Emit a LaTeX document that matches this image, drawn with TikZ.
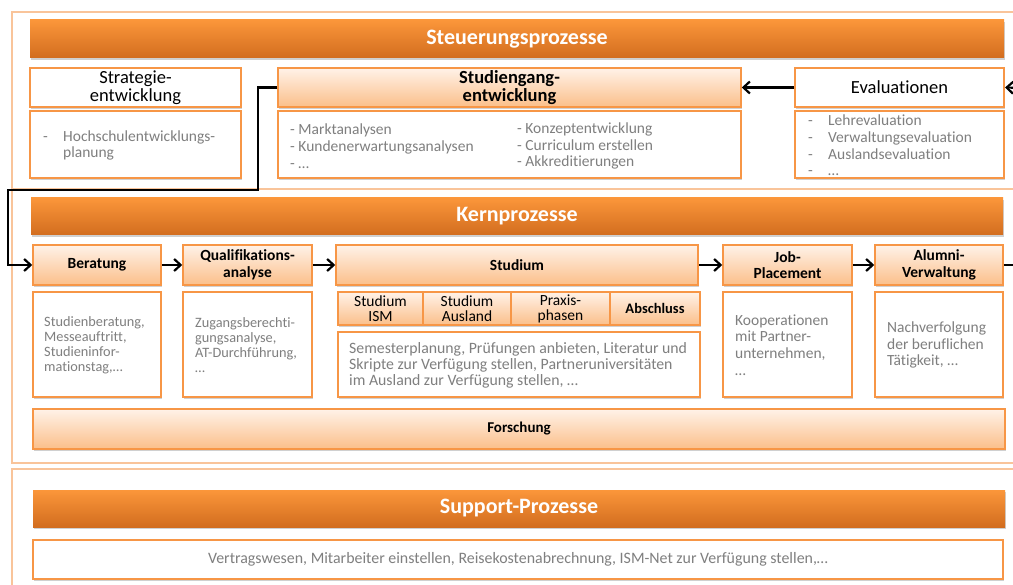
\documentclass[tikz,border=0pt]{standalone}
\usepackage{fontspec}
\setmainfont{Carlito}[Ligatures=NoCommon]
\usetikzlibrary{arrows.meta,shadows}
\definecolor{ordark}{HTML}{D26D1F}
\definecolor{orlight}{HTML}{FB963A}
\definecolor{orborder}{HTML}{F79646}
\definecolor{panelborder}{HTML}{F9C49A}
\definecolor{ttltop}{HTML}{FFF2E8}
\definecolor{ttlbot}{HTML}{FBBF8A}
\definecolor{graytext}{HTML}{7F7F7F}
\newcommand\mybox[7]{\node[#2, minimum width={(#5)-(#3)}, minimum height={(#6)-(#4)}] (#1) at ({((#3)+(#5))/2},{((#4)+(#6))/2}) {#7};}
\begin{document}
\begin{tikzpicture}[x=1pt,y=-1pt,
  shad/.style={drop shadow={shadow xshift=1pt, shadow yshift=-2pt, opacity=0.3, fill=black!60}},
  panel/.style={draw=panelborder, line width=1.5pt},
  hdr/.style={shad, top color=orlight, bottom color=ordark, text=white, inner sep=0pt,
    font=\bfseries\fontsize{22}{24}\selectfont},
  ttl/.style={shad, draw=orborder, line width=1.5pt, top color=ttltop, bottom color=ttlbot,
    inner sep=0pt, align=center, font=\bfseries\fontsize{15.5}{16.7}\selectfont},
  bigttl/.style={ttl, font=\bfseries\fontsize{18.5}{17.7}\selectfont},
  wttl/.style={shad, draw=orborder, line width=2pt, fill=white, inner sep=0pt, align=center,
    font=\fontsize{18.5}{17.7}\selectfont},
  subttl/.style={ttl, font=\fontsize{15.5}{15}\selectfont},
  cbox/.style={shad, draw=orborder, line width=1.5pt, fill=white, inner sep=0pt, text=graytext,
    align=center, font=\fontsize{15.9}{16}\selectfont},
  ctext/.style={anchor=west, inner sep=0pt, text=graytext, align=left},
  small/.style={font=\fontsize{14.3}{15}\selectfont},
  mid/.style={font=\fontsize{15.5}{16.7}\selectfont},
  flow/.style={line width=2.2pt, -{Straight Barb[length=6.5pt,width=12pt]}},
  plain/.style={line width=2.2pt}
]
\useasboundingbox (0,0) rectangle (1013,585);
\begin{scope}
\clip (0,0) rectangle (1013,585);
\fill[white] (0,0) rectangle (1013,585);
% panels
\draw[panel] (12,12) rectangle (1030,189);
\draw[panel] (12,189) rectangle (1030,463);
\draw[panel] (12,469) rectangle (1030,600);

% Steuerungsprozesse
\mybox{sh}{hdr}{30}{20}{1004}{58}{Steuerungsprozesse}
\mybox{strt}{wttl}{30}{68}{241}{107}{Strategie-\\entwicklung}
\mybox{strc}{cbox}{30}{111}{241}{178}{}
\node[ctext, font=\fontsize{15.5}{16.5}\selectfont] (strx) at (43,146)
  {\begin{tabular}{@{}p{20pt}@{}l@{}}-&Hochschulentwicklungs-\\&planung\end{tabular}};
\mybox{stt}{bigttl}{278}{68}{741}{107}{Studiengang-\\entwicklung}
\mybox{stc}{cbox}{278}{111}{741}{178}{}
\node[ctext, font=\fontsize{15.5}{16.8}\selectfont] (stl) at (290,146)
  {- Marktanalysen\\- Kundenerwartungsanalysen\\- …};
\node[ctext, font=\fontsize{15.5}{16.8}\selectfont] (str) at (517,146)
  {- Konzeptentwicklung\\- Curriculum erstellen\\- Akkreditierungen};
\mybox{evt}{wttl}{795}{68}{1004}{107}{Evaluationen}
\mybox{evc}{cbox}{795}{111}{1004}{178}{}
\node[ctext, font=\fontsize{15.5}{16.7}\selectfont] (evx) at (808,147.5)
  {\begin{tabular}{@{}p{20pt}@{}l@{}}-&Lehrevaluation\\-&Verwaltungsevaluation\\-&Auslandsevaluation\\-&…\end{tabular}};

% Kernprozesse
\mybox{kh}{hdr}{31}{198}{1003}{235}{Kernprozesse}
\mybox{ber}{ttl}{33}{245}{161}{285}{Beratung}
\mybox{berc}{cbox}{33}{292}{161}{397}{}
\node[ctext, small] (berx) at (44,345)
  {Studienberatung,\\Messeauftritt,\\Studieninfor-\\mationstag,…};
\mybox{qua}{ttl}{183}{245}{312}{285}{Qualifikations-\\analyse}
\mybox{quac}{cbox}{183}{292}{312}{397}{}
\node[ctext, small] (quax) at (195,345)
  {Zugangsberechti-\\gungsanalyse,\\AT-Durchführung,\\…};
\mybox{stu}{ttl}{336}{245}{698}{285}{Studium}
\mybox{sism}{subttl}{338}{292}{423}{325}{Studium\\ISM}
\mybox{saus}{subttl}{423}{292}{511}{325}{Studium\\Ausland}
\mybox{spra}{subttl}{511}{292}{610}{325}{Praxis-\\phasen}
\mybox{sabs}{ttl}{610}{292}{700}{325}{\fontsize{14.5}{15}\selectfont Abschluss}
\mybox{stuc}{cbox}{338}{332}{700}{397}{}
\node[ctext, font=\fontsize{15.8}{16}\selectfont] (stux) at (349,365)
  {Semesterplanung, Prüfungen anbieten, Literatur und\\Skripte zur Verfügung stellen, Partneruniversitäten\\im Ausland zur Verfügung stellen, …};
\mybox{job}{ttl}{723}{245}{852}{285}{Job-\\Placement}
\mybox{jobc}{cbox}{723}{292}{852}{397}{}
\node[ctext, font=\fontsize{15.5}{16.7}\selectfont] (jobx) at (735,345)
  {Kooperationen\\mit Partner-\\unternehmen,\\…};
\mybox{alu}{ttl}{875}{245}{1003}{285}{Alumni-\\Verwaltung}
\mybox{aluc}{cbox}{875}{292}{1003}{397}{}
\node[ctext, font=\fontsize{15.5}{16.3}\selectfont] (alux) at (887,345)
  {Nachverfolgung\\der beruflichen\\Tätigkeit, …};
\mybox{for}{ttl}{33}{409}{1005}{449}{\fontsize{15}{16}\selectfont Forschung}

% Support
\mybox{sup}{hdr}{33}{490}{1005}{527}{Support-Prozesse}
\mybox{supc}{cbox}{33}{540}{1003}{579}{Vertragswesen, Mitarbeiter einstellen, Reisekostenabrechnung, ISM-Net zur Verfügung stellen,…}

% connectors
\coordinate (c1) at (258,190);
\coordinate (c2) at (8,190);
\coordinate (er) at (1025,88);
\coordinate (ar) at (1025,265);
\draw[flow] (stt.west) -| (c1) -- (c2) |- (ber.west);
\draw[flow] (evt.west) -- (stt.east);
\draw[flow] (er) -- (evt.east);
\draw[flow] (ber.east) -- (qua.west);
\draw[flow] (qua.east) -- (stu.west);
\draw[flow] (stu.east) -- (job.west);
\draw[flow] (job.east) -- (alu.west);
\draw[plain] (alu.east) -- (ar);
\end{scope}
\end{tikzpicture}
\end{document}
